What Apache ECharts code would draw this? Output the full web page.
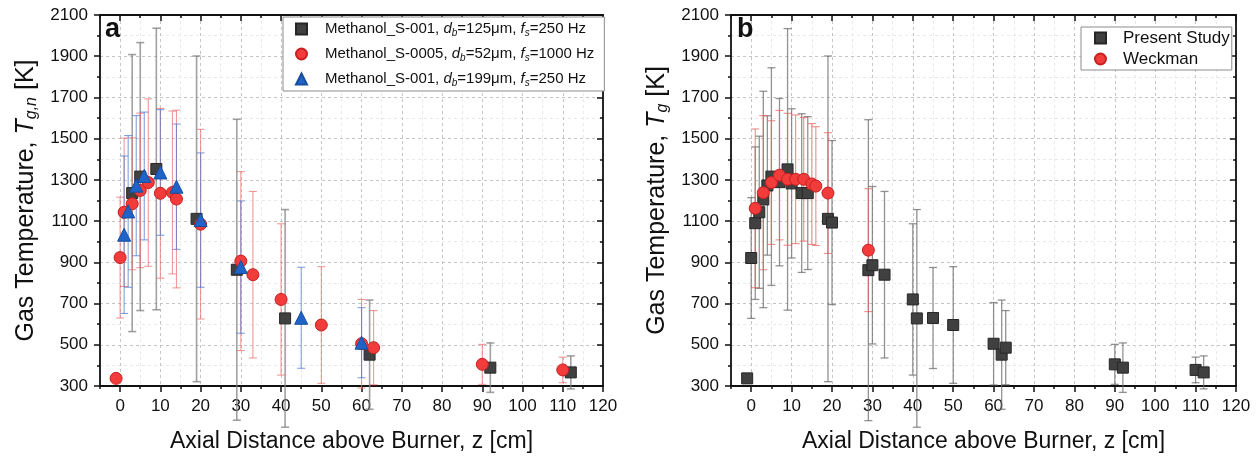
<!DOCTYPE html>
<html>
<head>
<meta charset="utf-8">
<script src="https://cdn.jsdelivr.net/npm/echarts@6/dist/echarts.min.js"></script>
<style>
  html, body { margin: 0; padding: 0; background: #fff; }
  #chart { width: 1259px; height: 458px; }
</style>
</head>
<body>
<div id="chart"></div>
<script>
// ---- data (z in cm, T in K, err = +/- half length of bar) ----

// panel a
const zA125 = [3, 5, 9, 19, 29, 41, 62, 92, 112];
const tA125 = [1236, 1316, 1353, 1111, 864, 628, 452, 389, 366];
const eA125 = [672, 650, 683, 790, 730, 528, 265, 120, 80];

const zA52 = [-1, 0, 1, 3, 5, 7, 10, 13, 14, 20, 30, 33, 40, 50, 60, 63, 90, 110];
const tA52 = [337, 923, 1143, 1184, 1249, 1287, 1235, 1239, 1207, 1085, 906, 840, 720, 596, 505, 486, 405, 378];
const eA52 = [0, 293, 360, 320, 375, 406, 412, 395, 431, 460, 434, 404, 367, 283, 215, 180, 97, 62];

const zA199 = [1, 2, 4, 6, 10, 14, 20, 30, 45, 60];
const tA199 = [1034, 1147, 1272, 1319, 1336, 1267, 1105, 877, 631, 510];
const eA199 = [382, 368, 340, 310, 305, 304, 326, 321, 245, 170];

// panel b
const zBpres = [-1, 0, 1, 2, 3, 4, 5, 7, 9, 10, 12.5, 14, 19, 20, 29, 30, 33, 40, 41, 45, 50, 60, 62, 63, 90, 92, 110, 112];
const tBpres = [337, 921, 1090, 1143, 1205, 1273, 1316, 1289, 1351, 1283, 1236, 1236, 1111, 1093, 862, 886, 840, 720, 628, 630, 596, 505, 452, 486, 405, 389, 378, 366];
const eBpres = [0, 293, 370, 369, 525, 338, 528, 406, 683, 362, 385, 371, 790, 398, 730, 382, 404, 367, 528, 245, 283, 200, 265, 180, 97, 120, 62, 80];

const zBweck = [1, 3, 5, 7, 9, 11, 13, 15, 16, 19, 29];
const tBweck = [1162, 1238, 1287, 1323, 1303, 1303, 1303, 1280, 1270, 1236, 959];
const eBweck = [385, 374, 300, 314, 320, 312, 300, 293, 288, 293, 298];

// axis ticks
const xTickLabels = [0, 10, 20, 30, 40, 50, 60, 70, 80, 90, 100, 110, 120];
const xMinor = [-5, 5, 15, 25, 35, 45, 55, 65, 75, 85, 95, 105, 115];
const yTickLabels = [300, 500, 700, 900, 1100, 1300, 1500, 1700, 1900, 2100];
const yMinor = [400, 600, 800, 1000, 1200, 1400, 1600, 1800, 2000];

const FONT = 'Arial, "Liberation Sans", sans-serif';
const INK = '#111';

const chart = echarts.init(document.getElementById('chart'));

function xAxesFor(gi) {
  const base = { gridIndex: gi, type: 'value', min: -5, max: 120, interval: 5 };
  const line = { color: INK, width: 1.8 };
  return [
    Object.assign({}, base, {
      position: 'bottom',
      axisLine: { show: false, onZero: false },
      axisTick: { show: true, customValues: xMinor, length: 3, lineStyle: { color: INK, width: 1.5 } },
      axisLabel: { show: false },
      splitLine: { show: true, lineStyle: { color: '#e9e9e9', type: [3, 3] } }
    }),
    Object.assign({}, base, {
      position: 'bottom',
      name: 'Axial Distance above Burner, z [cm]',
      nameLocation: 'middle',
      nameGap: 44,
      nameTextStyle: { fontSize: 23, color: INK, fontFamily: FONT },
      axisLine: { show: true, onZero: false, lineStyle: line },
      axisTick: { show: true, customValues: xTickLabels, length: 6, lineStyle: { color: INK, width: 1.5 } },
      axisLabel: { customValues: xTickLabels, fontSize: 17, color: INK, fontFamily: FONT, margin: 12, formatter: v => String(v) },
      splitLine: { show: true, lineStyle: { color: '#c4c4c4', type: [3, 3] } }
    }),
    Object.assign({}, base, {
      position: 'top',
      axisLine: { show: true, onZero: false, lineStyle: line },
      axisTick: { show: true, inside: true, customValues: xTickLabels, length: 6, lineStyle: { color: INK, width: 1.5 } },
      axisLabel: { show: false },
      splitLine: { show: false }
    }),
    Object.assign({}, base, {
      position: 'top',
      axisLine: { show: false, onZero: false },
      axisTick: { show: true, inside: true, customValues: xMinor, length: 3, lineStyle: { color: INK, width: 1.5 } },
      axisLabel: { show: false },
      splitLine: { show: false }
    })
  ];
}

function yAxesFor(gi, title) {
  const base = { gridIndex: gi, type: 'value', min: 300, max: 2100, interval: 100 };
  const line = { color: INK, width: 1.8 };
  return [
    Object.assign({}, base, {
      position: 'left',
      axisLine: { show: false, onZero: false },
      axisTick: { show: true, customValues: yMinor, length: 3, lineStyle: { color: INK, width: 1.5 } },
      axisLabel: { show: false },
      splitLine: { show: true, lineStyle: { color: '#e9e9e9', type: [3, 3] } }
    }),
    Object.assign({}, base, {
      position: 'left',
      name: title,
      nameLocation: 'middle',
      nameGap: 60,
      nameTextStyle: {
        fontSize: 25, color: INK, fontFamily: FONT, lineHeight: 28,
        rich: {
          i: { fontSize: 25, fontStyle: 'italic', color: INK, fontFamily: FONT, lineHeight: 28 },
          s: { fontSize: 16, fontStyle: 'italic', color: INK, fontFamily: FONT, lineHeight: 13, verticalAlign: 'bottom' }
        }
      },
      axisLine: { show: true, onZero: false, lineStyle: line },
      axisTick: { show: true, customValues: yTickLabels, length: 6, lineStyle: { color: INK, width: 1.5 } },
      axisLabel: { customValues: yTickLabels, fontSize: 17, color: INK, fontFamily: FONT, margin: 12, formatter: v => String(v) },
      splitLine: { show: true, lineStyle: { color: '#c4c4c4', type: [3, 3] } }
    }),
    Object.assign({}, base, {
      position: 'right',
      axisLine: { show: true, onZero: false, lineStyle: line },
      axisTick: { show: true, inside: true, customValues: yTickLabels, length: 6, lineStyle: { color: INK, width: 1.5 } },
      axisLabel: { show: false },
      splitLine: { show: false }
    }),
    Object.assign({}, base, {
      position: 'right',
      axisLine: { show: false, onZero: false },
      axisTick: { show: true, inside: true, customValues: yMinor, length: 3, lineStyle: { color: INK, width: 1.5 } },
      axisLabel: { show: false },
      splitLine: { show: false }
    })
  ];
}

// vertical error bars with caps, not clipped (they run below the frame in the original)
function errorBars(zs, ts, es, color, width, gi) {
  return {
    type: 'custom',
    xAxisIndex: gi * 4 + 1,
    yAxisIndex: gi * 4 + 1,
    clip: false,
    silent: true,
    z: 2,
    data: zs.map((z, i) => [z, ts[i] - es[i], ts[i] + es[i]]),
    encode: { x: 0, y: [1, 2] },
    renderItem: function (params, api) {
      const lo = api.coord([api.value(0), api.value(1)]);
      const hi = api.coord([api.value(0), api.value(2)]);
      if (Math.abs(lo[1] - hi[1]) < 1) return null;
      const st = { stroke: color, lineWidth: width };
      const w = 4;
      return {
        type: 'group',
        children: [
          { type: 'line', shape: { x1: lo[0], y1: lo[1], x2: hi[0], y2: hi[1] }, style: st },
          { type: 'line', shape: { x1: lo[0] - w, y1: lo[1], x2: lo[0] + w, y2: lo[1] }, style: st },
          { type: 'line', shape: { x1: hi[0] - w, y1: hi[1], x2: hi[0] + w, y2: hi[1] }, style: st }
        ]
      };
    }
  };
}

function points(name, zs, ts, symbol, size, fill, edge, gi, z) {
  return {
    name: name,
    type: 'scatter',
    xAxisIndex: gi * 4 + 1,
    yAxisIndex: gi * 4 + 1,
    symbol: symbol,
    symbolSize: size,
    z: z,
    itemStyle: { color: fill, borderColor: edge, borderWidth: 1, opacity: 1 },
    data: zs.map((v, i) => [v, ts[i]])
  };
}

const GREY = '#404040', GREY_EDGE = '#262626';
const RED = '#f23b3b', RED_EDGE = '#c62020';
const BLUE = '#1f63c9', BLUE_EDGE = '#174e9e';

const legendText = {
  a125: 'Methanol_S-001, {i|d}{s|b}=125\u03bcm, {i|f}{s|s}=250 Hz',
  a52: 'Methanol_S-0005, {i|d}{s|b}=52\u03bcm, {i|f}{s|s}=1000 Hz',
  a199: 'Methanol_S-001, {i|d}{s|b}=199\u03bcm, {i|f}{s|s}=250 Hz',
  bPres: 'Present Study',
  bWeck: 'Weckman'
};

function legendRich(fs) {
  return {
    i: { fontSize: fs, fontStyle: 'italic', color: INK, fontFamily: FONT, lineHeight: 18 },
    s: { fontSize: Math.round(fs * 0.65), fontStyle: 'italic', color: INK, fontFamily: FONT, lineHeight: 9, verticalAlign: 'bottom' }
  };
}

const option = {
  animation: false,
  backgroundColor: '#ffffff',
  textStyle: { fontFamily: FONT },
  grid: [
    { left: 100, top: 15, width: 503, height: 371 },
    { left: 731, top: 15, width: 505, height: 371 }
  ],
  xAxis: xAxesFor(0).concat(xAxesFor(1)),
  yAxis: yAxesFor(0, 'Gas Temperature, {i|T}{s|g,n} [K]').concat(yAxesFor(1, 'Gas Temperature, {i|T}{s|g} [K]')),
  legend: [
    {
      orient: 'vertical',
      left: 283,
      top: 17,
      padding: [3, 10, 3, 12],
      itemGap: 7,
      itemWidth: 11,
      itemHeight: 11,
      borderColor: '#8c8c8c',
      borderWidth: 1,
      backgroundColor: '#fff',
      data: [
        { name: 'a125', icon: 'rect' },
        { name: 'a52', icon: 'circle' },
        { name: 'a199', icon: 'triangle' }
      ],
      formatter: n => legendText[n],
      textStyle: { fontSize: 15, color: INK, fontFamily: FONT, lineHeight: 18, padding: [0, 0, 0, 13], rich: legendRich(15) }
    },
    {
      orient: 'vertical',
      left: 1081,
      top: 27,
      padding: [2, 2, 2, 13],
      itemGap: 3,
      itemWidth: 11,
      itemHeight: 11,
      borderColor: '#8c8c8c',
      borderWidth: 1,
      backgroundColor: '#fff',
      data: [
        { name: 'bPres', icon: 'rect' },
        { name: 'bWeck', icon: 'circle' }
      ],
      formatter: n => legendText[n],
      textStyle: { fontSize: 17, color: INK, fontFamily: FONT, lineHeight: 18, padding: [0, 0, 0, 12] }
    }
  ],
  graphic: [
    { type: 'text', left: 105, top: 16, z: 10, style: { text: 'a', font: 'bold 27px ' + FONT, fill: INK } },
    { type: 'text', left: 737, top: 16, z: 10, style: { text: 'b', font: 'bold 27px ' + FONT, fill: INK } }
  ],
  series: [
    errorBars(zA125, tA125, eA125, 'rgba(130,130,130,0.75)', 1.6, 0),
    errorBars(zA52, tA52, eA52, 'rgba(235,110,110,0.7)', 1.1, 0),
    errorBars(zA199, tA199, eA199, 'rgba(80,120,205,0.7)', 1.1, 0),
    points('a125', zA125, tA125, 'rect', 11, GREY, GREY_EDGE, 0, 3),
    points('a52', zA52, tA52, 'circle', 12, RED, RED_EDGE, 0, 4),
    points('a199', zA199, tA199, 'triangle', 13, BLUE, BLUE_EDGE, 0, 5),

    errorBars(zBpres, tBpres, eBpres, 'rgba(110,110,110,0.75)', 1.3, 1),
    errorBars(zBweck, tBweck, eBweck, 'rgba(235,100,100,0.75)', 1.1, 1),
    points('bPres', zBpres, tBpres, 'rect', 11, GREY, GREY_EDGE, 1, 3),
    points('bWeck', zBweck, tBweck, 'circle', 12, RED, RED_EDGE, 1, 4)
  ]
};

chart.setOption(option);
</script>
</body>
</html>
